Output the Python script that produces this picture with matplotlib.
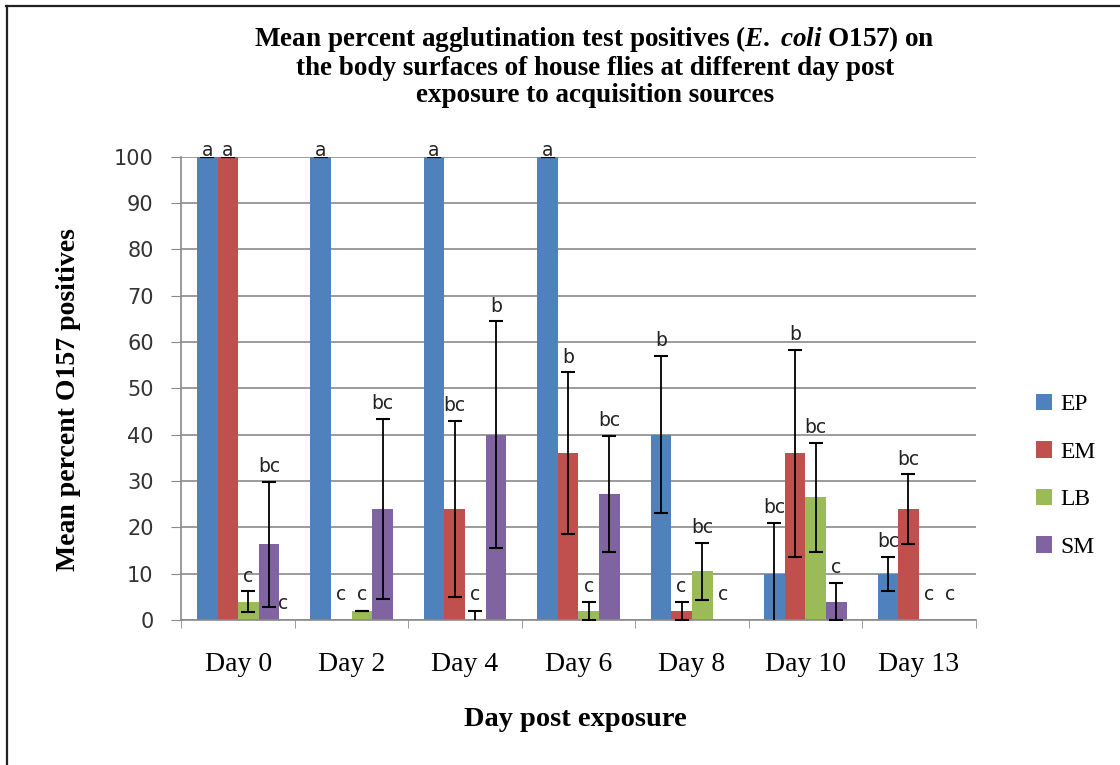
import numpy as np
import matplotlib
matplotlib.use("Agg")
import matplotlib.pyplot as plt
from matplotlib.lines import Line2D

days = ["Day 0", "Day 2", "Day 4", "Day 6", "Day 8", "Day 10", "Day 13"]
series = ["EP", "EM", "LB", "SM"]

ep = [100, 100, 100, 100, 40, 10, 10]
em = [100, 0, 24, 36, 2, 36, 24]
lb = [4, 2, 0, 2, 10.5, 26.5, 0]
sm = [16.4, 24, 40, 27.2, 0, 4, 0]

ep_err = [0, 0, 0, 0, 17, 11, 3.7]
em_err = [0, 0, 19, 17.5, 2, 22.3, 7.5]
lb_err = [2.2, 0, 2, 2, 6.2, 11.8, 0]
sm_err = [13.5, 19.5, 24.5, 12.6, 0, 4, 0]

ep_let = ["a", "a", "a", "a", "b", "bc", "bc"]
em_let = ["a", "c", "bc", "b", "c", "b", "bc"]
lb_let = ["c", "c", "c", "c", "bc", "bc", "c"]
sm_let = ["bc", "bc", "b", "bc", "c", "c", "c"]

colors = ["#4F81BD", "#C0504D", "#9BBB59", "#8064A2"]

plt.rcParams["mathtext.fontset"] = "custom"
plt.rcParams["mathtext.rm"] = "Liberation Serif:bold"
plt.rcParams["mathtext.it"] = "Liberation Serif:italic:bold"

fig = plt.figure(figsize=(11.2, 7.65), dpi=100)
ax = fig.add_axes([0.162, 0.1895, 0.709, 0.6055])

x = np.arange(len(days))
w = 1 / 5.5
vals = [ep, em, lb, sm]
errs = [ep_err, em_err, lb_err, sm_err]
lets = [ep_let, em_let, lb_let, sm_let]

for i in range(4):
    pos = x + (i - 1.5) * w
    ax.bar(pos, vals[i], w, color=colors[i], label=series[i], zorder=2)
    # no error bar where both the mean and the error are zero
    keep = [j for j in range(len(days)) if vals[i][j] > 0 or errs[i][j] > 0]
    ax.errorbar(pos[keep], np.array(vals[i])[keep], yerr=np.array(errs[i])[keep],
                fmt="none", ecolor="black", elinewidth=1.3, capsize=5,
                capthick=1.5, zorder=3)
    for j in range(len(days)):
        top = vals[i][j] + errs[i][j]
        y = top + 1.2 if top >= 3 else 3.5
        if vals[i][j] == 100:
            y = 99.3
        ax.text(pos[j], y, lets[i][j], ha="center", va="bottom",
                fontsize=13.5, family="DejaVu Sans", color="#222222", zorder=4)

# stray letter beside the Day 0 SM bar
ax.text(x[0] + 2.2 * w, 1.5, "c", ha="center", va="bottom",
        fontsize=13.5, family="DejaVu Sans", color="#222222")

ax.set_xlim(-0.5, len(days) - 0.5)
ax.set_ylim(0, 100)
ax.set_yticks(range(0, 101, 10))
ax.yaxis.grid(True, color="#8a8a8a", linewidth=1.2, zorder=0)
ax.set_axisbelow(True)

ax.set_xticks(x)
ax.set_xticklabels(days, family="Liberation Serif", fontsize=20)
ax.tick_params(axis="x", which="major", length=0, pad=23)
ax.set_xticks(np.arange(-0.5, len(days)), minor=True)
ax.tick_params(axis="x", which="minor", length=6, color="#8a8a8a", direction="out")
ax.tick_params(axis="y", length=7, color="#8a8a8a", pad=13, labelsize=15)
for lab in ax.get_yticklabels():
    lab.set_family("DejaVu Sans")
    lab.set_color("#333333")

for s in ["top", "right"]:
    ax.spines[s].set_visible(False)
for s in ["left", "bottom"]:
    ax.spines[s].set_color("#8a8a8a")
    ax.spines[s].set_linewidth(1.2)

fig.text(0.531, 0.914,
         "Mean percent agglutination test positives ($\\mathit{E.}$ $\\mathit{coli}$ O157) on\n"
         "the body surfaces of house flies at different day post\n"
         "exposure to acquisition sources",
         ha="center", va="center", family="Liberation Serif", fontweight="bold",
         fontsize=19.5, linespacing=1.1)

fig.text(0.061, 0.478, "Mean percent O157 positives", rotation=90,
         ha="center", va="center", family="Liberation Serif", fontweight="bold", fontsize=20)
fig.text(0.514, 0.059, "Day post exposure", ha="center", va="center",
         family="Liberation Serif", fontweight="bold", fontsize=20.5)

leg = fig.legend(loc="center left", bbox_to_anchor=(0.906, 0.378), frameon=False,
                 prop={"family": "Liberation Serif", "size": 17},
                 handlelength=0.7, handleheight=0.7, handletextpad=0.35,
                 labelspacing=1.1)

fig.add_artist(Line2D([6.5 / 1120, 6.5 / 1120], [0, 1 - 5.5 / 765],
                      transform=fig.transFigure, color="#222222", linewidth=1.6))
fig.add_artist(Line2D([6 / 1120, 1], [1 - 5.5 / 765, 1 - 5.5 / 765],
                      transform=fig.transFigure, color="#222222", linewidth=1.6))

fig.savefig("out.png", dpi=100)
